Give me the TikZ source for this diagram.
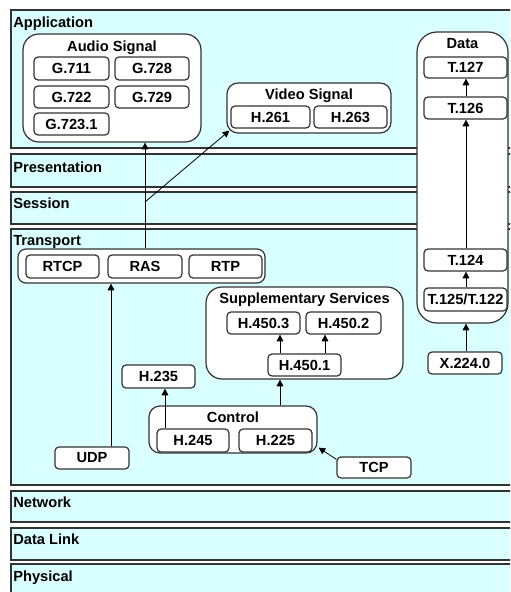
\documentclass[tikz,border=0pt]{standalone}
\usepackage{fontspec}
\setmainfont{Liberation Sans}
\usetikzlibrary{arrows.meta,calc}
\definecolor{layerfill}{HTML}{D9FFFF}
\definecolor{edge}{HTML}{333333}
\tikzset{
  layer/.style={draw=edge,line width=1.4pt,fill=layerfill},
  lbl/.style={anchor=base west,inner sep=0pt},
  ttl/.style={anchor=base,inner sep=0pt},
  sbox/.style={draw=edge,line width=0.9pt,fill=white,rounded corners=3pt,inner sep=0pt},
  gbox/.style={draw=edge,line width=0.9pt,fill=white,inner sep=0pt},
  arr/.style={line width=0.6pt,-{Triangle[length=5pt,width=5pt]}},
  ln/.style={line width=0.6pt}
}
\newcommand{\bx}[6]{\node[sbox,minimum width={(#4-#2)*0.75pt},minimum height={(#5-#3)*0.75pt}] (#1) at ({(#2+#4)/2},{(#3+#5)/2}) {#6};}
\newcommand{\gx}[7]{\node[gbox,rounded corners={#7*0.75pt},minimum width={(#4-#2)*0.75pt},minimum height={(#5-#3)*0.75pt}] (#1) at ({(#2+#4)/2},{(#3+#5)/2}) {#6};}
\begin{document}
\begin{tikzpicture}[x=0.75pt,y=-0.75pt,font=\bfseries\fontsize{11}{12}\selectfont]
\useasboundingbox (0,0) rectangle (510,592);
\clip (0,0) rectangle (510,592);
% layers
\draw[layer] (11,10) rectangle (530,148);
\draw[layer] (11,154) rectangle (530,187);
\draw[layer] (11,192) rectangle (530,224);
\draw[layer] (11,229) rectangle (530,485);
\draw[layer] (11,491) rectangle (530,522);
\draw[layer] (11,528) rectangle (530,560);
\draw[layer] (11,564) rectangle (530,600);
\node[lbl] (lapp) at (13,28) {Application};
\node[lbl] (lpres) at (13,172) {Presentation};
\node[lbl] (lsess) at (13,208) {Session};
\node[lbl] (ltrans) at (13,245) {Transport};
\node[lbl] (lnet) at (13,507) {Network};
\node[lbl] (ldl) at (13,544) {Data Link};
\node[lbl] (lphy) at (13,581) {Physical};
% group boxes
\gx{audio}{23}{34}{201}{142}{}{16}
\node[ttl] (audiot) at (112,51) {Audio Signal};
\gx{video}{227}{83}{391}{133}{}{11}
\node[ttl] (videot) at (309,99) {Video Signal};
\gx{data}{417}{32}{508}{323}{}{20}
\node[ttl] (datat) at (462.5,49) {Data};
\gx{tgroup}{18}{249}{265}{283}{}{8}
\gx{supp}{206}{287}{403}{379}{}{16}
\node[ttl] (suppt) at (304.5,303) {Supplementary Services};
\gx{control}{149}{406}{317}{453}{}{11}
\node[ttl] (controlt) at (233,422) {Control};
% small boxes
\bx{g711}{34}{57}{109}{80}{G.711}
\bx{g728}{115}{57}{189}{80}{G.728}
\bx{g722}{34}{86}{109}{108}{G.722}
\bx{g729}{115}{86}{189}{108}{G.729}
\bx{g7231}{34}{113}{109}{135}{G.723.1}
\bx{h261}{231}{106}{310}{128}{H.261}
\bx{h263}{314}{106}{387}{128}{H.263}
\bx{t127}{424}{57}{507}{78}{T.127}
\bx{t126}{424}{97}{507}{119}{T.126}
\bx{t124}{424}{249}{507}{271}{T.124}
\bx{t125}{424}{288}{507}{311}{T.125/T.122}
\bx{x224}{428}{352}{502}{374}{X.224.0}
\bx{rtcp}{26}{255}{99}{278}{RTCP}
\bx{ras}{108}{255}{182}{278}{RAS}
\bx{rtp}{189}{255}{262}{278}{RTP}
\bx{h4503}{227}{312}{300}{334}{H.450.3}
\bx{h4502}{306}{312}{381}{334}{H.450.2}
\bx{h4501}{268}{354}{341}{376}{H.450.1}
\bx{h235}{122}{365}{195}{388}{H.235}
\bx{h245}{157}{429}{229}{452}{H.245}
\bx{h225}{239}{429}{312}{452}{H.225}
\bx{udp}{55}{447}{129}{469}{UDP}
\bx{tcp}{337}{457}{411}{478}{TCP}
% connectors
\draw[arr] (ras.north |- tgroup.north) -- (ras.north |- audio.south);
\coordinate (branch) at (145,202);
\draw[arr] (branch) -- ($(video.south west)+(3,-3)$);
\draw[arr] (111,0 |- udp.north) -- (111,0 |- tgroup.south);
\draw[arr] (165,0 |- h245.north) -- (165,0 |- h235.south);
\draw[arr] (280,0 |- control.north) -- (280,0 |- supp.south);
\draw[arr] (280,0 |- h4501.north) -- (280,0 |- h4503.south);
\draw[arr] (325,0 |- h4501.north) -- (325,0 |- h4502.south);
\draw[arr] ($(tcp.north west)+(0,3)$) -- ($(control.south east)+(1,-6)$);
\draw[arr] (466,0 |- t126.north) -- (466,0 |- t127.south);
\draw[arr] (466,0 |- t124.north) -- (466,0 |- t126.south);
\draw[arr] (466,0 |- t125.north) -- (466,0 |- t124.south);
\draw[arr] (466,0 |- x224.north) -- (466,0 |- data.south);
\end{tikzpicture}
\end{document}
